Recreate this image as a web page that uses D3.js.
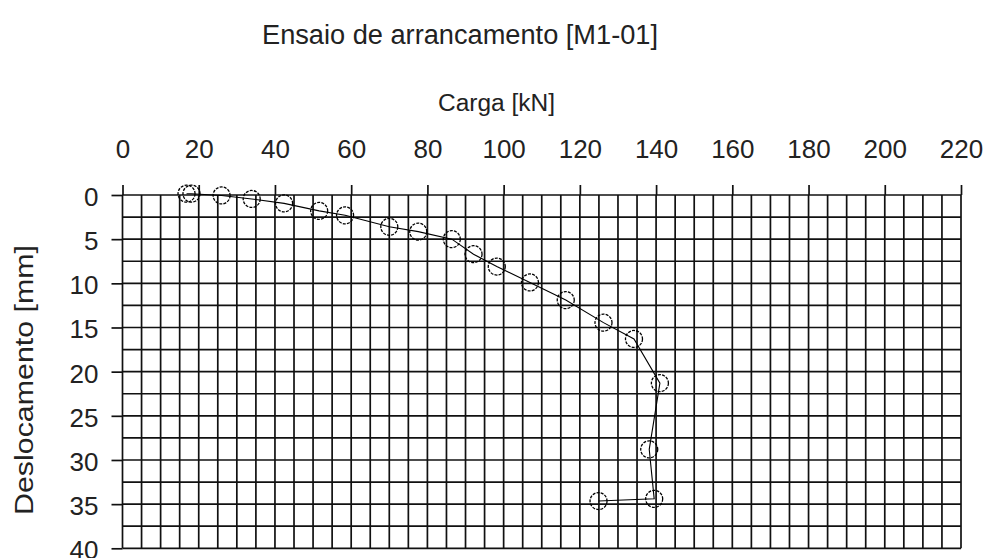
<!DOCTYPE html>
<html>
<head>
<meta charset="utf-8">
<script src="https://cdn.jsdelivr.net/npm/d3@7/dist/d3.min.js"></script>
<style>
  html, body { margin: 0; padding: 0; background: #fff; }
  svg { display: block; font-family: "Liberation Sans", Arial, sans-serif; }
</style>
</head>
<body>
<svg id="chart" width="988" height="558"></svg>
<script>
// Pull-out test: load (kN) against displacement (mm), in reading order
const carga = [16.8, 18.1, 26.0, 33.9, 42.4, 51.6, 58.4, 70.0, 77.6, 86.4, 92.1, 98.2, 106.9, 116.3, 126.2, 134.2, 141.0, 138.2, 139.5, 124.9];
const deslocamento = [-0.15, -0.15, 0.05, 0.45, 0.95, 1.8, 2.3, 3.6, 4.15, 5.0, 6.7, 8.1, 9.9, 11.9, 14.45, 16.3, 21.3, 28.8, 34.4, 34.65];

const xTicks = d3.range(0, 221, 20);
const yTicks = d3.range(0, 41, 5);
const xGrid = d3.range(0, 221, 5);
const yGrid = d3.range(0, 40.01, 2.5);

const titulo = "Ensaio de arrancamento [M1-01]";
const tituloX = "Carga [kN]";
const tituloY = "Deslocamento [mm]";

const svg = d3.select("#chart");
const margin = { left: 122.5, top: 195, right: 27, bottom: 9.7 };
const W = 988 - margin.left - margin.right;
const H = 558 - margin.top - margin.bottom;

const x = d3.scaleLinear().domain([0, 220]).range([0, W]);
const y = d3.scaleLinear().domain([0, 40]).range([0, H]);

const g = svg.append("g").attr("transform", `translate(${margin.left},${margin.top})`);

// grid: every 5 kN and every 2.5 mm
g.append("g").selectAll("line").data(xGrid).join("line")
  .attr("x1", d => x(d)).attr("x2", d => x(d))
  .attr("y1", 0).attr("y2", H)
  .attr("stroke", "#111").attr("stroke-width", 1.7);
g.append("g").selectAll("line").data(yGrid).join("line")
  .attr("x1", 0).attr("x2", W)
  .attr("y1", d => y(d)).attr("y2", d => y(d))
  .attr("stroke", "#111").attr("stroke-width", 1.7);

// top axis (load)
const xAxis = g.append("g")
  .call(d3.axisTop(x).tickValues(xTicks).tickSize(10).tickFormat(d3.format("d")));
xAxis.select(".domain").remove();
xAxis.selectAll(".tick line").attr("stroke", "#111").attr("stroke-width", 1.7);
xAxis.selectAll(".tick text")
  .attr("y", -37).attr("dy", 0)
  .attr("font-size", 26).attr("fill", "#222")
  .attr("font-family", "'Liberation Sans', Arial, sans-serif");

// left axis (displacement)
const yAxis = g.append("g")
  .call(d3.axisLeft(y).tickValues(yTicks).tickSize(11).tickFormat(d3.format("d")));
yAxis.select(".domain").remove();
yAxis.selectAll(".tick line").attr("stroke", "#111").attr("stroke-width", 1.7);
yAxis.selectAll(".tick text")
  .attr("x", -24).attr("dy", "0.4em")
  .attr("font-size", 26).attr("fill", "#222")
  .attr("font-family", "'Liberation Sans', Arial, sans-serif");

// load-displacement curve
const pts = carga.map((c, i) => [c, deslocamento[i]]);
g.append("path")
  .datum(pts)
  .attr("fill", "none")
  .attr("stroke", "#000")
  .attr("stroke-width", 1.1)
  .attr("d", d3.line().x(d => x(d[0])).y(d => y(d[1])));

g.append("g").selectAll("circle").data(pts).join("circle")
  .attr("cx", d => x(d[0]))
  .attr("cy", d => y(d[1]))
  .attr("r", 8.5)
  .attr("fill", "none")
  .attr("stroke", "#000")
  .attr("stroke-width", 1.3)
  .attr("stroke-dasharray", "3 1.2");

// titles
svg.append("text")
  .attr("x", 262).attr("y", 44)
  .attr("font-size", 27).attr("fill", "#222")
  .attr("textLength", 396)
  .attr("lengthAdjust", "spacingAndGlyphs")
  .text(titulo);

svg.append("text")
  .attr("x", 438).attr("y", 111)
  .attr("font-size", 23).attr("fill", "#222")
  .attr("textLength", 117)
  .attr("lengthAdjust", "spacingAndGlyphs")
  .text(tituloX);

svg.append("text")
  .attr("transform", "translate(33,380) rotate(-90)")
  .attr("text-anchor", "middle")
  .attr("font-size", 26).attr("fill", "#222")
  .attr("textLength", 270)
  .attr("lengthAdjust", "spacingAndGlyphs")
  .text(tituloY);
</script>
</body>
</html>
